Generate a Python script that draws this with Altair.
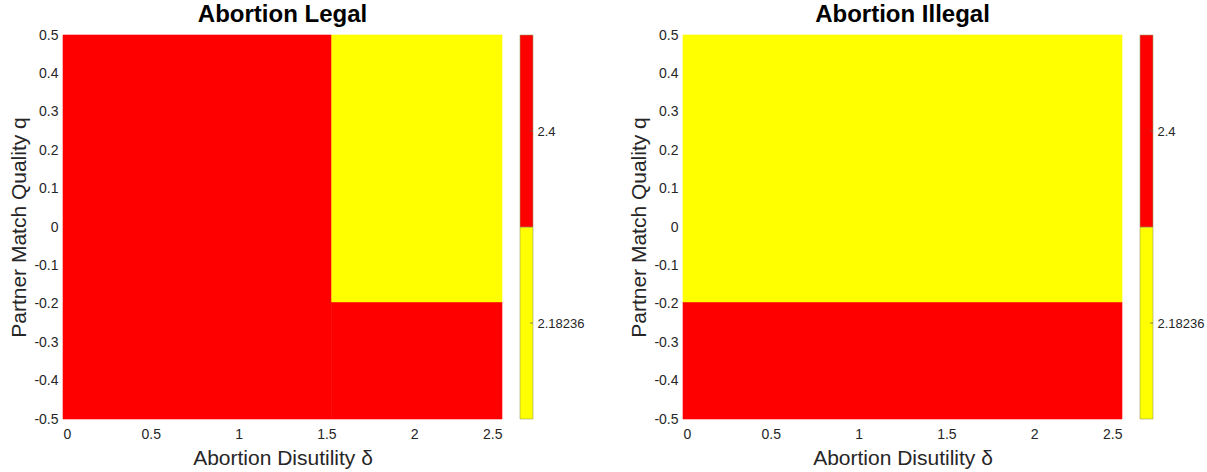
import altair as alt
import pandas as pd

# Policy regime regions in (delta, q) space, value per region
RED = 2.4
YELLOW = 2.18236

legal_x0 = [0.0, 1.53, 1.53]
legal_x1 = [1.53, 2.5, 2.5]
legal_y0 = [-0.5, -0.5, -0.195]
legal_y1 = [0.5, -0.195, 0.5]
legal_val = [RED, RED, YELLOW]

illegal_x0 = [0.0, 0.0]
illegal_x1 = [2.5, 2.5]
illegal_y0 = [-0.5, -0.195]
illegal_y1 = [-0.195, 0.5]
illegal_val = [RED, YELLOW]

x_ticks = [0, 0.5, 1, 1.5, 2, 2.5]
y_ticks = [0.5, 0.4, 0.3, 0.2, 0.1, 0, -0.1, -0.2, -0.3, -0.4, -0.5]

# Colorbar: two equal bands centred on the two values
cb_levels = [YELLOW, RED]
cb_half = (RED - YELLOW) / 2
cb_lo = [YELLOW - cb_half, YELLOW + cb_half]
cb_hi = [RED - cb_half, RED + cb_half]

FONT = "Liberation Sans"
TXT = "#262626"
W, H = 439, 384
CB_W = 13

color_scale = alt.Scale(type="ordinal", domain=[YELLOW, RED], range=["#ffff00", "#ff0000"])


def panel(title, x0, x1, y0, y1, val):
    df = pd.DataFrame({"x0": x0, "x1": x1, "y0": y0, "y1": y1, "v": val})
    return alt.Chart(df, title=alt.Title(title, fontSize=24, font=FONT, fontWeight="bold",
                                         color="#000000", anchor="middle", offset=1)).mark_rect(
        strokeWidth=0.6
    ).encode(
        x=alt.X("x0:Q", scale=alt.Scale(domain=[0, 2.5], nice=False, zero=False),
                axis=alt.Axis(values=x_ticks, labelExpr="'' + datum.value", title="Abortion Disutility δ",
                              domain=False, ticks=False, grid=False, labelPadding=8,
                              labelFontSize=14, labelColor=TXT, labelFont=FONT,
                              titleFontSize=21, titleFontWeight="normal", titleColor=TXT,
                              titleFont=FONT, titlePadding=6)),
        x2="x1:Q",
        y=alt.Y("y0:Q", scale=alt.Scale(domain=[-0.5, 0.5], nice=False, zero=False),
                axis=alt.Axis(values=y_ticks, labelExpr="'' + datum.value", title="Partner Match Quality q",
                              domain=False, ticks=False, grid=False, labelPadding=5,
                              labelFontSize=14, labelColor=TXT, labelFont=FONT,
                              titleFontSize=21, titleFontWeight="normal", titleColor=TXT,
                              titleFont=FONT, titlePadding=4)),
        y2="y1:Q",
        color=alt.Color("v:O", scale=color_scale, legend=None),
        stroke=alt.Stroke("v:O", scale=color_scale, legend=None),
    ).properties(width=W, height=H)


def colorbar():
    df = pd.DataFrame({"lo": cb_lo, "hi": cb_hi, "v": cb_levels})
    dom = [cb_lo[0], cb_hi[1]]
    bands = alt.Chart(df).mark_rect(stroke="#9a9a60", strokeWidth=0.6).encode(
        x=alt.value(0), x2=alt.value(CB_W),
        y=alt.Y("lo:Q", scale=alt.Scale(domain=dom, nice=False, zero=False),
                axis=alt.Axis(orient="right", values=cb_levels, labelExpr="'' + datum.value",
                              title=None, domain=False, ticks=False, grid=False,
                              labelPadding=4, labelFontSize=13, labelColor=TXT,
                              labelFont=FONT)),
        y2="hi:Q",
        color=alt.Color("v:O", scale=color_scale, legend=None),
    )
    ticks = alt.Chart(pd.DataFrame({"v": cb_levels})).mark_rule(color="#666666", strokeWidth=0.8).encode(
        x=alt.value(CB_W - 3), x2=alt.value(CB_W),
        y=alt.Y("v:Q", scale=alt.Scale(domain=dom, nice=False, zero=False)),
    )
    return alt.layer(bands, ticks).properties(width=CB_W, height=H)


left = alt.hconcat(panel("Abortion Legal", legal_x0, legal_x1, legal_y0, legal_y1, legal_val),
                   colorbar(), spacing=16)
right = alt.hconcat(panel("Abortion Illegal", illegal_x0, illegal_x1, illegal_y0, illegal_y1, illegal_val),
                    colorbar(), spacing=16)

chart = alt.hconcat(left, right, spacing=44).configure_view(stroke=None).properties(
    padding={"left": 8, "top": 3, "right": 2, "bottom": 2}, background="white"
)

chart.save("out.html", embed_options={"renderer": "svg", "actions": False})
